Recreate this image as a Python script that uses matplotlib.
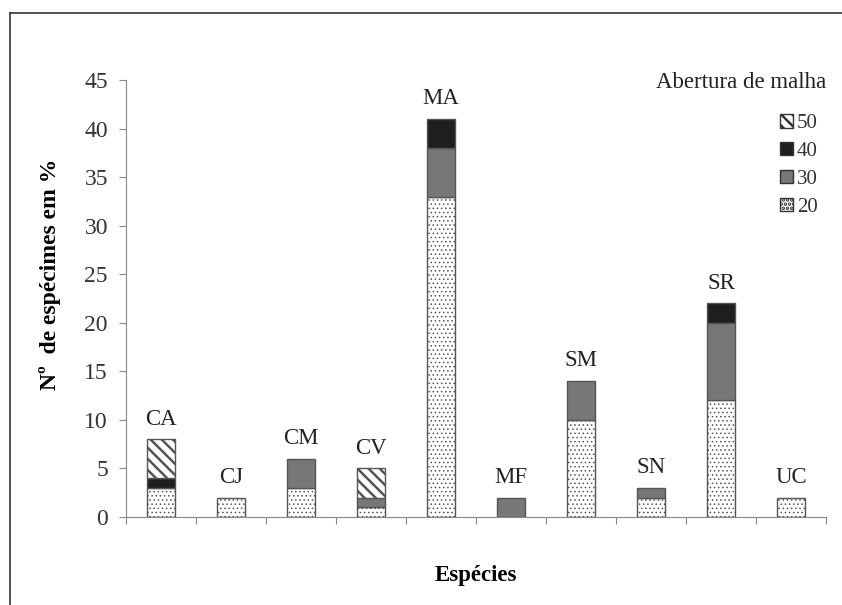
import matplotlib
matplotlib.use('Agg')
import matplotlib.pyplot as plt
from matplotlib.lines import Line2D
from matplotlib.patches import Patch
import numpy as np

plt.rcParams['font.family'] = ['Liberation Serif', 'DejaVu Serif']

# Data
species = ['CA', 'CJ', 'CM', 'CV', 'MA', 'MF', 'SM', 'SN', 'SR', 'UC']
mesh_20 = [3, 2, 3, 1, 33, 0, 10, 2, 12, 2]
mesh_30 = [0, 0, 3, 1, 5, 2, 4, 1, 8, 0]
mesh_40 = [1, 0, 0, 0, 3, 0, 0, 0, 2, 0]
mesh_50 = [4, 0, 0, 3, 0, 0, 0, 0, 0, 0]
y_ticks = [0, 5, 10, 15, 20, 25, 30, 35, 40, 45]

fig = plt.figure(figsize=(8.42, 6.05), dpi=100)
ax = fig.add_axes([126 / 842, 88 / 605, 700 / 842, 437 / 605])

x = np.arange(len(species))
width = 0.41
edge = '#555555'

s20 = np.array(mesh_20)
s30 = np.array(mesh_30)
s40 = np.array(mesh_40)
s50 = np.array(mesh_50)

# draw only non-zero segments, hatch line width differs per pattern
def draw(vals, bottom, hlw=None, **kw):
    for xi, v, b in zip(x, vals, bottom):
        if v > 0:
            if hlw is not None:
                plt.rcParams['hatch.linewidth'] = hlw
            ax.bar(xi, v, width, bottom=b, edgecolor=edge, linewidth=1.0, **kw)

plt.rcParams['hatch.color'] = '#777777'
draw(s20, np.zeros(len(x)), hlw=0.6, color='white', hatch='....')
draw(s30, s20, color='#777777')
draw(s40, s20 + s30, color='#1e1e1e')
plt.rcParams['hatch.color'] = '#222222'
draw(s50, s20 + s30 + s40, hlw=1.8, color='white', hatch='\\\\\\')

totals = s20 + s30 + s40 + s50
for xi, t, name in zip(x, totals, species):
    ax.text(xi, t + 1.0, name, ha='center', va='bottom', fontsize=16.5, color='#222222')

ax.set_xlim(-0.5, len(species) - 0.5)
ax.set_ylim(0, 45)
ax.set_yticks(y_ticks)
ax.set_xticks(np.arange(len(species) + 1) - 0.5)
ax.set_xticklabels([])
ax.tick_params(axis='y', labelsize=17, colors='#888888', labelcolor='#333333', length=5, direction='out', pad=8)
ax.tick_params(axis='x', colors='#888888', length=5, direction='out')
for s in ['top', 'right']:
    ax.spines[s].set_visible(False)
for s in ['left', 'bottom']:
    ax.spines[s].set_color('#888888')

ax.set_ylabel('Nº  de espécimes em %', fontsize=17, fontweight='bold')
ax.yaxis.set_label_coords(-0.093, 0.555)
ax.set_xlabel('Espécies', fontsize=16.5, fontweight='bold', labelpad=26)

handles = [
    Patch(facecolor='white', edgecolor='#333333', hatch='\\\\\\', label='50'),
    Patch(facecolor='#1e1e1e', edgecolor='#333333', label='40'),
    Patch(facecolor='#777777', edgecolor='#333333', label='30'),
    Patch(facecolor='white', edgecolor='#333333', hatch='....', label='20'),
]
fig.text(826 / 842, 1 - 83 / 605, 'Abertura de malha', ha='right', va='center', fontsize=16.5, color='#222222')
leg = fig.legend(handles=handles, loc='upper right', bbox_to_anchor=(826 / 842, 1 - 106 / 605),
                 frameon=False, fontsize=15, handlelength=0.6, handleheight=0.6,
                 handletextpad=0.2, labelspacing=0.42, borderaxespad=0)
for t in leg.get_texts():
    t.set_color('#333333')

# outer frame (top and left only)
fig.add_artist(Line2D([10 / 842, 10 / 842], [0, 1 - 13 / 605], transform=fig.transFigure, color='#333333', lw=1.2))
fig.add_artist(Line2D([10 / 842, 1], [1 - 13 / 605, 1 - 13 / 605], transform=fig.transFigure, color='#333333', lw=1.2))

fig.savefig('out.png', dpi=100)
